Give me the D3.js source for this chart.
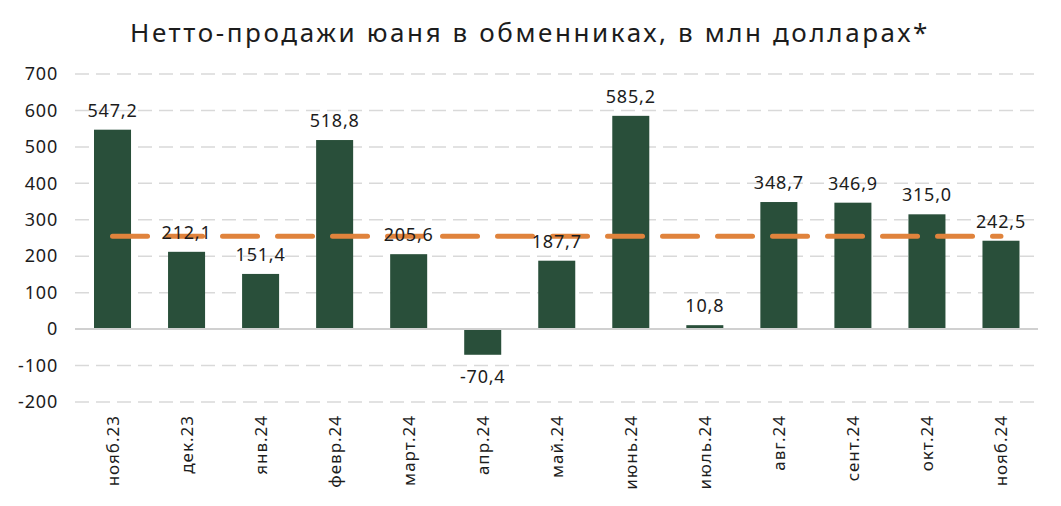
<!DOCTYPE html>
<html><head><meta charset="utf-8">
<script src="https://cdn.jsdelivr.net/npm/d3@7"></script>
<style>body{margin:0;background:#fff;} svg{display:block;font-family:"Noto Sans",sans-serif;}</style>
</head><body>
<svg id="c" width="1061" height="506"></svg>
<script>
const categories = ["нояб.23","дек.23","янв.24","февр.24","март.24","апр.24","май.24","июнь.24","июль.24","авг.24","сент.24","окт.24","нояб.24"];
const values = [547.2,212.1,151.4,518.8,205.6,-70.4,187.7,585.2,10.8,348.7,346.9,315.0,242.5];
const averageValue = 254.5;
const yTicks = [-200,-100,0,100,200,300,400,500,600,700];
const title = "Нетто-продажи юаня в обменниках, в млн долларах*";

const svg = d3.select("#c");
const x = d3.scaleBand().domain(categories).range([75.5,1038]).paddingInner(0.5).paddingOuter(0.25);
const y = d3.scaleLinear().domain([-200,700]).range([402,74]);
const fmt = v => v.toFixed(1).replace(".", ",");
const FONT = "'Noto Sans',sans-serif";
const INK = "#1c1c1c";
const W = 400;

svg.append("text").attr("x",530).attr("y",42).attr("text-anchor","middle")
  .attr("font-size",26).attr("font-weight",W).attr("letter-spacing","2.6px").attr("fill",INK).text(title);

// grid
svg.append("g").selectAll("line").data(yTicks.filter(d=>d!==0)).join("line")
  .attr("x1",75).attr("x2",1038).attr("y1",d=>y(d)).attr("y2",d=>y(d))
  .attr("stroke","#d9d9d9").attr("stroke-width",1.5).attr("stroke-dasharray","14,7");

// y axis labels
const yAxis = d3.axisLeft(y).tickValues(yTicks).tickSize(0).tickPadding(0).tickFormat(d=>String(d));
const ya = svg.append("g").attr("transform","translate(58,0)").call(yAxis);
ya.select(".domain").remove();
ya.selectAll("text").attr("font-size",18).attr("font-weight",W).attr("letter-spacing","0.8px").attr("fill",INK).attr("font-family",FONT);

// bars
svg.append("g").selectAll("rect").data(values).join("rect")
  .attr("x",(d,i)=>x(categories[i])).attr("width",x.bandwidth())
  .attr("y",d=>y(Math.max(0,d))).attr("height",d=>Math.abs(y(d)-y(0)))
  .attr("fill","#294f3a");

// zero line
svg.append("line").attr("x1",75).attr("x2",1038).attr("y1",y(0)).attr("y2",y(0))
  .attr("stroke","#d0d0d0").attr("stroke-width",2);

// average line
const xc = c => x(c)+x.bandwidth()/2;
svg.append("line").attr("x1",xc(categories[0])).attr("x2",xc(categories[categories.length-1]))
  .attr("y1",y(averageValue)).attr("y2",y(averageValue))
  .attr("stroke","#e0833c").attr("stroke-width",5).attr("stroke-linecap","round")
  .attr("stroke-dasharray","35,20");

// data labels
svg.append("g").selectAll("text").data(values).join("text")
  .attr("x",(d,i)=>xc(categories[i]))
  .attr("y",d=> d>=0 ? y(d)-13 : y(d)+28)
  .attr("text-anchor","middle").attr("font-size",18).attr("font-weight",W).attr("letter-spacing","0.8px").attr("fill",INK)
  .text(d=>fmt(d));

// x labels
svg.append("g").selectAll("text").data(categories).join("text")
  .attr("transform",c=>`translate(${xc(c)+6},415) rotate(-90)`)
  .attr("text-anchor","end").attr("font-size",17).attr("font-weight",W).attr("letter-spacing","1px").attr("fill",INK)
  .text(c=>c);
</script>
</body></html>
